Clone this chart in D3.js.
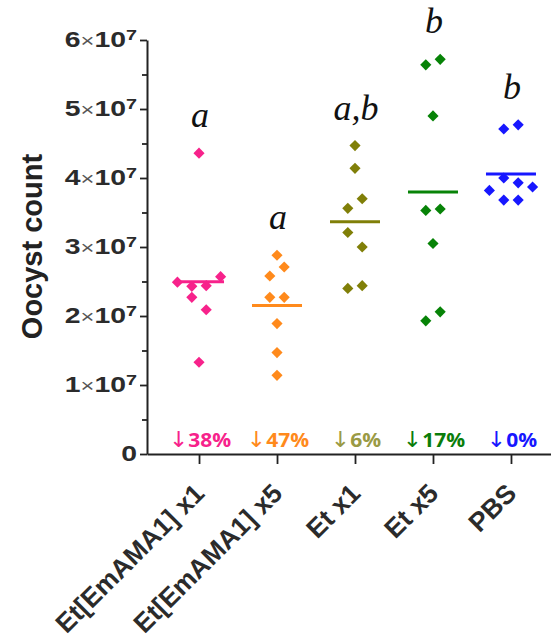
<!DOCTYPE html>
<html><head><meta charset="utf-8">
<script src="https://cdn.jsdelivr.net/npm/d3@7"></script>
<style>body{margin:0;background:#fff}svg{display:block}</style>
</head><body><svg id="c" width="551" height="642"></svg>
<script>
// ---- data ----
const groups = ["Et[EmAMA1] x1", "Et[EmAMA1] x5", "Et x1", "Et x5", "PBS"];
const g1Values = [4.36e7, 2.57e7, 2.49e7, 2.44e7, 2.43e7, 2.27e7, 2.09e7, 1.33e7];
const g2Values = [2.88e7, 2.71e7, 2.58e7, 2.27e7, 2.27e7, 1.89e7, 1.47e7, 1.14e7];
const g3Values = [4.47e7, 4.14e7, 3.70e7, 3.56e7, 3.21e7, 3.00e7, 2.40e7, 2.44e7];
const g4Values = [5.72e7, 5.64e7, 4.90e7, 3.55e7, 3.53e7, 3.05e7, 2.06e7, 1.93e7];
const g5Values = [4.77e7, 4.71e7, 4.00e7, 3.93e7, 3.87e7, 3.82e7, 3.68e7, 3.68e7];
// dodge slot of each dot inside its column (scatter-dot-plot lanes)
const g1Slots = [0, 3, -3, 1, -1, -1, 1, 0];
const g2Slots = [0, 1, -1, -1, 1, 0, 0, 0];
const g3Slots = [0, 0, 1, -1, -1, 1, -1, 1];
const g4Slots = [1, -1, 0, 1, -1, 0, 1, -1];
const g5Slots = [1, -1, -1, 1, 3, -3, -1, 1];
const letters = ["a", "a", "a,b", "b", "b"];
const reductions = ["38%", "47%", "6%", "17%", "0%"];
const yMajorTicks = [0, 1e7, 2e7, 3e7, 4e7, 5e7, 6e7];
const yMinorTicks = [0.5e7, 1.5e7, 2.5e7, 3.5e7, 4.5e7, 5.5e7];
const yTitle = "Oocyst count";

// ---- styles ----
const dotColors = ["#f7228b", "#ff8a1c", "#807f08", "#078307", "#1717ff"];
const textColors = ["#f7228b", "#ff8a1c", "#9a9a45", "#0a7d0a", "#1717ff"];
const axisColor = "#222";

const allValues = [g1Values, g2Values, g3Values, g4Values, g5Values];
const allSlots = [g1Slots, g2Slots, g3Slots, g4Slots, g5Slots];

const svg = d3.select("#c");
const x = d3.scalePoint().domain(groups).range([147, 563]).padding(0.667);
const y = d3.scaleLinear().domain([0, 6e7]).range([454, 40]);
const dodge = d3.scaleLinear().domain([-1, 1]).range([-7.2, 7.2]);

// y axis minor ticks
const yMinor = svg.append("g").attr("transform", "translate(147,0)")
  .call(d3.axisLeft(y).tickValues(yMinorTicks).tickSize(5).tickSizeOuter(0).tickFormat(""));
yMinor.select(".domain").remove();
yMinor.selectAll(".tick line").attr("stroke", axisColor).attr("stroke-width", 1.8);

// y axis major
const yAx = svg.append("g").attr("transform", "translate(147,0)")
  .call(d3.axisLeft(y).tickValues(yMajorTicks).tickSize(7).tickSizeOuter(0).tickFormat(""));
yAx.select(".domain").attr("stroke", axisColor).attr("stroke-width", 2);
yAx.selectAll(".tick line").attr("stroke", axisColor).attr("stroke-width", 1.8);

// y tick labels  n×10^7
yMajorTicks.forEach(v => {
  const g = svg.append("g").attr("transform", `translate(137,${y(v) + 7}) scale(1.32,1)`);
  const t = g.append("text").attr("text-anchor", "end").attr("fill", "#2b2b2b")
    .attr("font-family", "Liberation Sans, Arial, sans-serif");
  if (v === 0) {
    t.append("tspan").attr("font-size", 21.5).attr("font-weight", "bold").text("0");
  } else {
    const n = Math.round(v / 1e7);
    t.append("tspan").attr("font-size", 21.5).attr("font-weight", "bold").text(n);
    t.append("tspan").attr("font-size", 18).attr("fill", "#555").text("×");
    t.append("tspan").attr("font-size", 21.5).attr("font-weight", "bold").text("10");
    t.append("tspan").attr("font-size", 15).attr("font-weight", "bold").attr("dy", -7.5).text("7");
  }
});

// x axis
const xAx = svg.append("g").attr("transform", "translate(0,454)")
  .call(d3.axisBottom(x).tickSize(10).tickSizeOuter(0).tickFormat(""));
xAx.select(".domain").attr("stroke", axisColor).attr("stroke-width", 2);
xAx.selectAll(".tick line").attr("stroke", axisColor).attr("stroke-width", 1.8);

// x labels
groups.forEach(gname => {
  svg.append("text")
    .attr("transform", `translate(${x(gname) + 7},495) rotate(-45)`)
    .attr("text-anchor", "end")
    .attr("font-family", "Liberation Sans, Arial, sans-serif")
    .attr("font-weight", "bold").attr("font-size", 26.5).attr("fill", "#2b2b2b")
    .text(gname);
});

// y title
svg.append("text")
  .attr("transform", "translate(42,246.5) rotate(-90)")
  .attr("text-anchor", "middle")
  .attr("font-family", "Liberation Sans, Arial, sans-serif")
  .attr("font-weight", "bold").attr("font-size", 29).attr("fill", "#222")
  .text(yTitle);

// dots, mean lines, letters, reductions
const diamond = d3.symbol().type(d3.symbolSquare).size(62);
groups.forEach((gname, i) => {
  const vals = allValues[i], slots = allSlots[i];
  const cx = x(gname);
  svg.append("g").selectAll("path").data(vals).join("path")
    .attr("d", diamond)
    .attr("transform", (d, j) => `translate(${cx + dodge(slots[j])},${y(d)}) rotate(45)`)
    .attr("fill", dotColors[i]);
  const m = d3.mean(vals);
  svg.append("line")
    .attr("x1", cx - 25).attr("x2", cx + 25)
    .attr("y1", y(m)).attr("y2", y(m))
    .attr("stroke", dotColors[i]).attr("stroke-width", 3);
  svg.append("text")
    .attr("x", cx + 1).attr("y", y(d3.max(vals)) - 26)
    .attr("text-anchor", "middle")
    .attr("font-family", "Liberation Serif, Times New Roman, serif")
    .attr("font-style", "italic").attr("font-size", 36).attr("fill", "#111")
    .text(letters[i]);
  const rt = svg.append("g").attr("transform", `translate(${cx + 1},446.5) scale(1.05,1)`)
    .append("text").attr("text-anchor", "middle").attr("fill", textColors[i]);
  rt.append("tspan").attr("font-family", "DejaVu Sans, sans-serif").attr("font-size", 22)
    .attr("font-weight", "normal").text("↓");
  rt.append("tspan").attr("font-family", "Open Sans, Noto Sans, sans-serif").attr("font-size", 20)
    .attr("font-weight", "bold").text(reductions[i]);
});
</script>
</body></html>
